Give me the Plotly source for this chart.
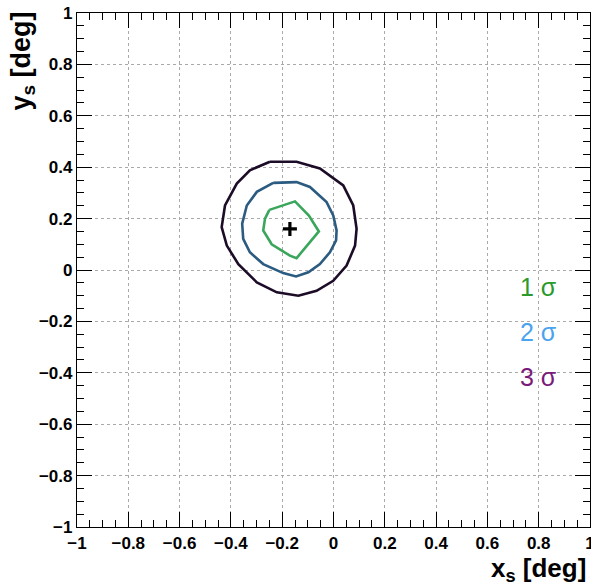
import plotly.graph_objects as go

# Best-fit position
best_x = [-0.17]
best_y = [0.16]

# 1 sigma contour
c1_x = [-0.250, -0.150, -0.096, -0.057, -0.144, -0.170, -0.241, -0.274, -0.267, -0.250]
c1_y = [0.234, 0.267, 0.212, 0.150, 0.046, 0.056, 0.100, 0.154, 0.200, 0.234]

# 2 sigma contour
c2_x = [-0.235, -0.144, -0.092, -0.027, -0.001, 0.012, 0.010, -0.014, -0.053, -0.098,
        -0.146, -0.196, -0.274, -0.326, -0.352, -0.356, -0.338, -0.299, -0.235]
c2_y = [0.339, 0.342, 0.323, 0.264, 0.212, 0.154, 0.115, 0.069, 0.023, -0.009,
        -0.025, -0.012, 0.023, 0.069, 0.121, 0.180, 0.251, 0.304, 0.339]

# 3 sigma contour
c3_x = [-0.248, -0.144, -0.053, 0.038, 0.077, 0.090, 0.084, 0.051, -0.001, -0.066,
        -0.137, -0.221, -0.299, -0.371, -0.416, -0.436, -0.423, -0.377, -0.326, -0.248]
c3_y = [0.421, 0.421, 0.395, 0.329, 0.251, 0.160, 0.095, 0.017, -0.042, -0.081,
        -0.100, -0.087, -0.048, 0.023, 0.095, 0.167, 0.251, 0.336, 0.388, 0.421]

tick_vals = [-1, -0.8, -0.6, -0.4, -0.2, 0, 0.2, 0.4, 0.6, 0.8, 1]
tick_text = ["\u22121", "\u22120.8", "\u22120.6", "\u22120.4", "\u22120.2", "0", "0.2", "0.4", "0.6", "0.8", "1"]

legend_labels = ["1 σ", "2 σ", "3 σ"]
legend_colors = ["#2a9a2a", "#4aa3ee", "#7a1a7a"]
line_colors = ["#3aa65c", "#2b5b80", "#1c0c28"]

fig = go.Figure()
for cx, cy, col in [(c3_x, c3_y, line_colors[2]), (c2_x, c2_y, line_colors[1]), (c1_x, c1_y, line_colors[0])]:
    fig.add_trace(go.Scatter(x=cx, y=cy, mode="lines", line=dict(color=col, width=2.6),
                             showlegend=False, hoverinfo="skip"))
fig.add_trace(go.Scatter(x=best_x, y=best_y, mode="markers",
                         marker=dict(symbol="cross-thin", size=10, color="black",
                                     line=dict(color="black", width=3.2)),
                         showlegend=False))

axis_common = dict(
    range=[-1, 1], tickmode="array", tickvals=tick_vals, ticktext=tick_text,
    ticks="inside", ticklen=15, tickwidth=1.2, ticklabeloverflow="allow", automargin=False,
    tickcolor="black", showline=True, linecolor="black", linewidth=1.2, mirror="allticks",
    showgrid=True, gridcolor="#aaaaaa", griddash="dot", gridwidth=1, zeroline=False,
    tickfont=dict(family="Liberation Sans", size=17, color="black", weight="bold"),
    minor=dict(tickmode="linear", tick0=-1, dtick=0.05, ticks="inside", ticklen=7,
               tickcolor="black", tickwidth=1.2, showgrid=False),
    fixedrange=True,
)
fig.update_xaxes(**axis_common)
fig.update_yaxes(**axis_common)

annotations = []
for i, (lab, col) in enumerate(zip(legend_labels, legend_colors)):
    annotations.append(dict(x=0.8, y=-0.065 - i * 0.175, xref="x", yref="y", text=lab,
                            showarrow=False, font=dict(family="Liberation Sans", size=25, color=col),
                            xanchor="center", yanchor="middle"))
annotations.append(dict(x=1, y=0, xref="paper", yref="paper", xanchor="right", yanchor="top",
                        yshift=-24, xshift=-2, text="x<sub>s</sub> [deg]", showarrow=False,
                        font=dict(family="Liberation Sans", size=26, color="black", weight="bold")))
annotations.append(dict(x=0, y=1, xref="paper", yref="paper", xanchor="right", yanchor="top",
                        xshift=-36, yshift=3, text="y<sub>s</sub> [deg]", textangle=-90, showarrow=False,
                        font=dict(family="Liberation Sans", size=27, color="black", weight="bold")))

fig.update_layout(
    width=591, height=587,
    margin=dict(l=77, r=1, t=13, b=60, autoexpand=False),
    paper_bgcolor="white", plot_bgcolor="white",
    annotations=annotations,
    showlegend=False,
)
fig.write_html("out.html")
